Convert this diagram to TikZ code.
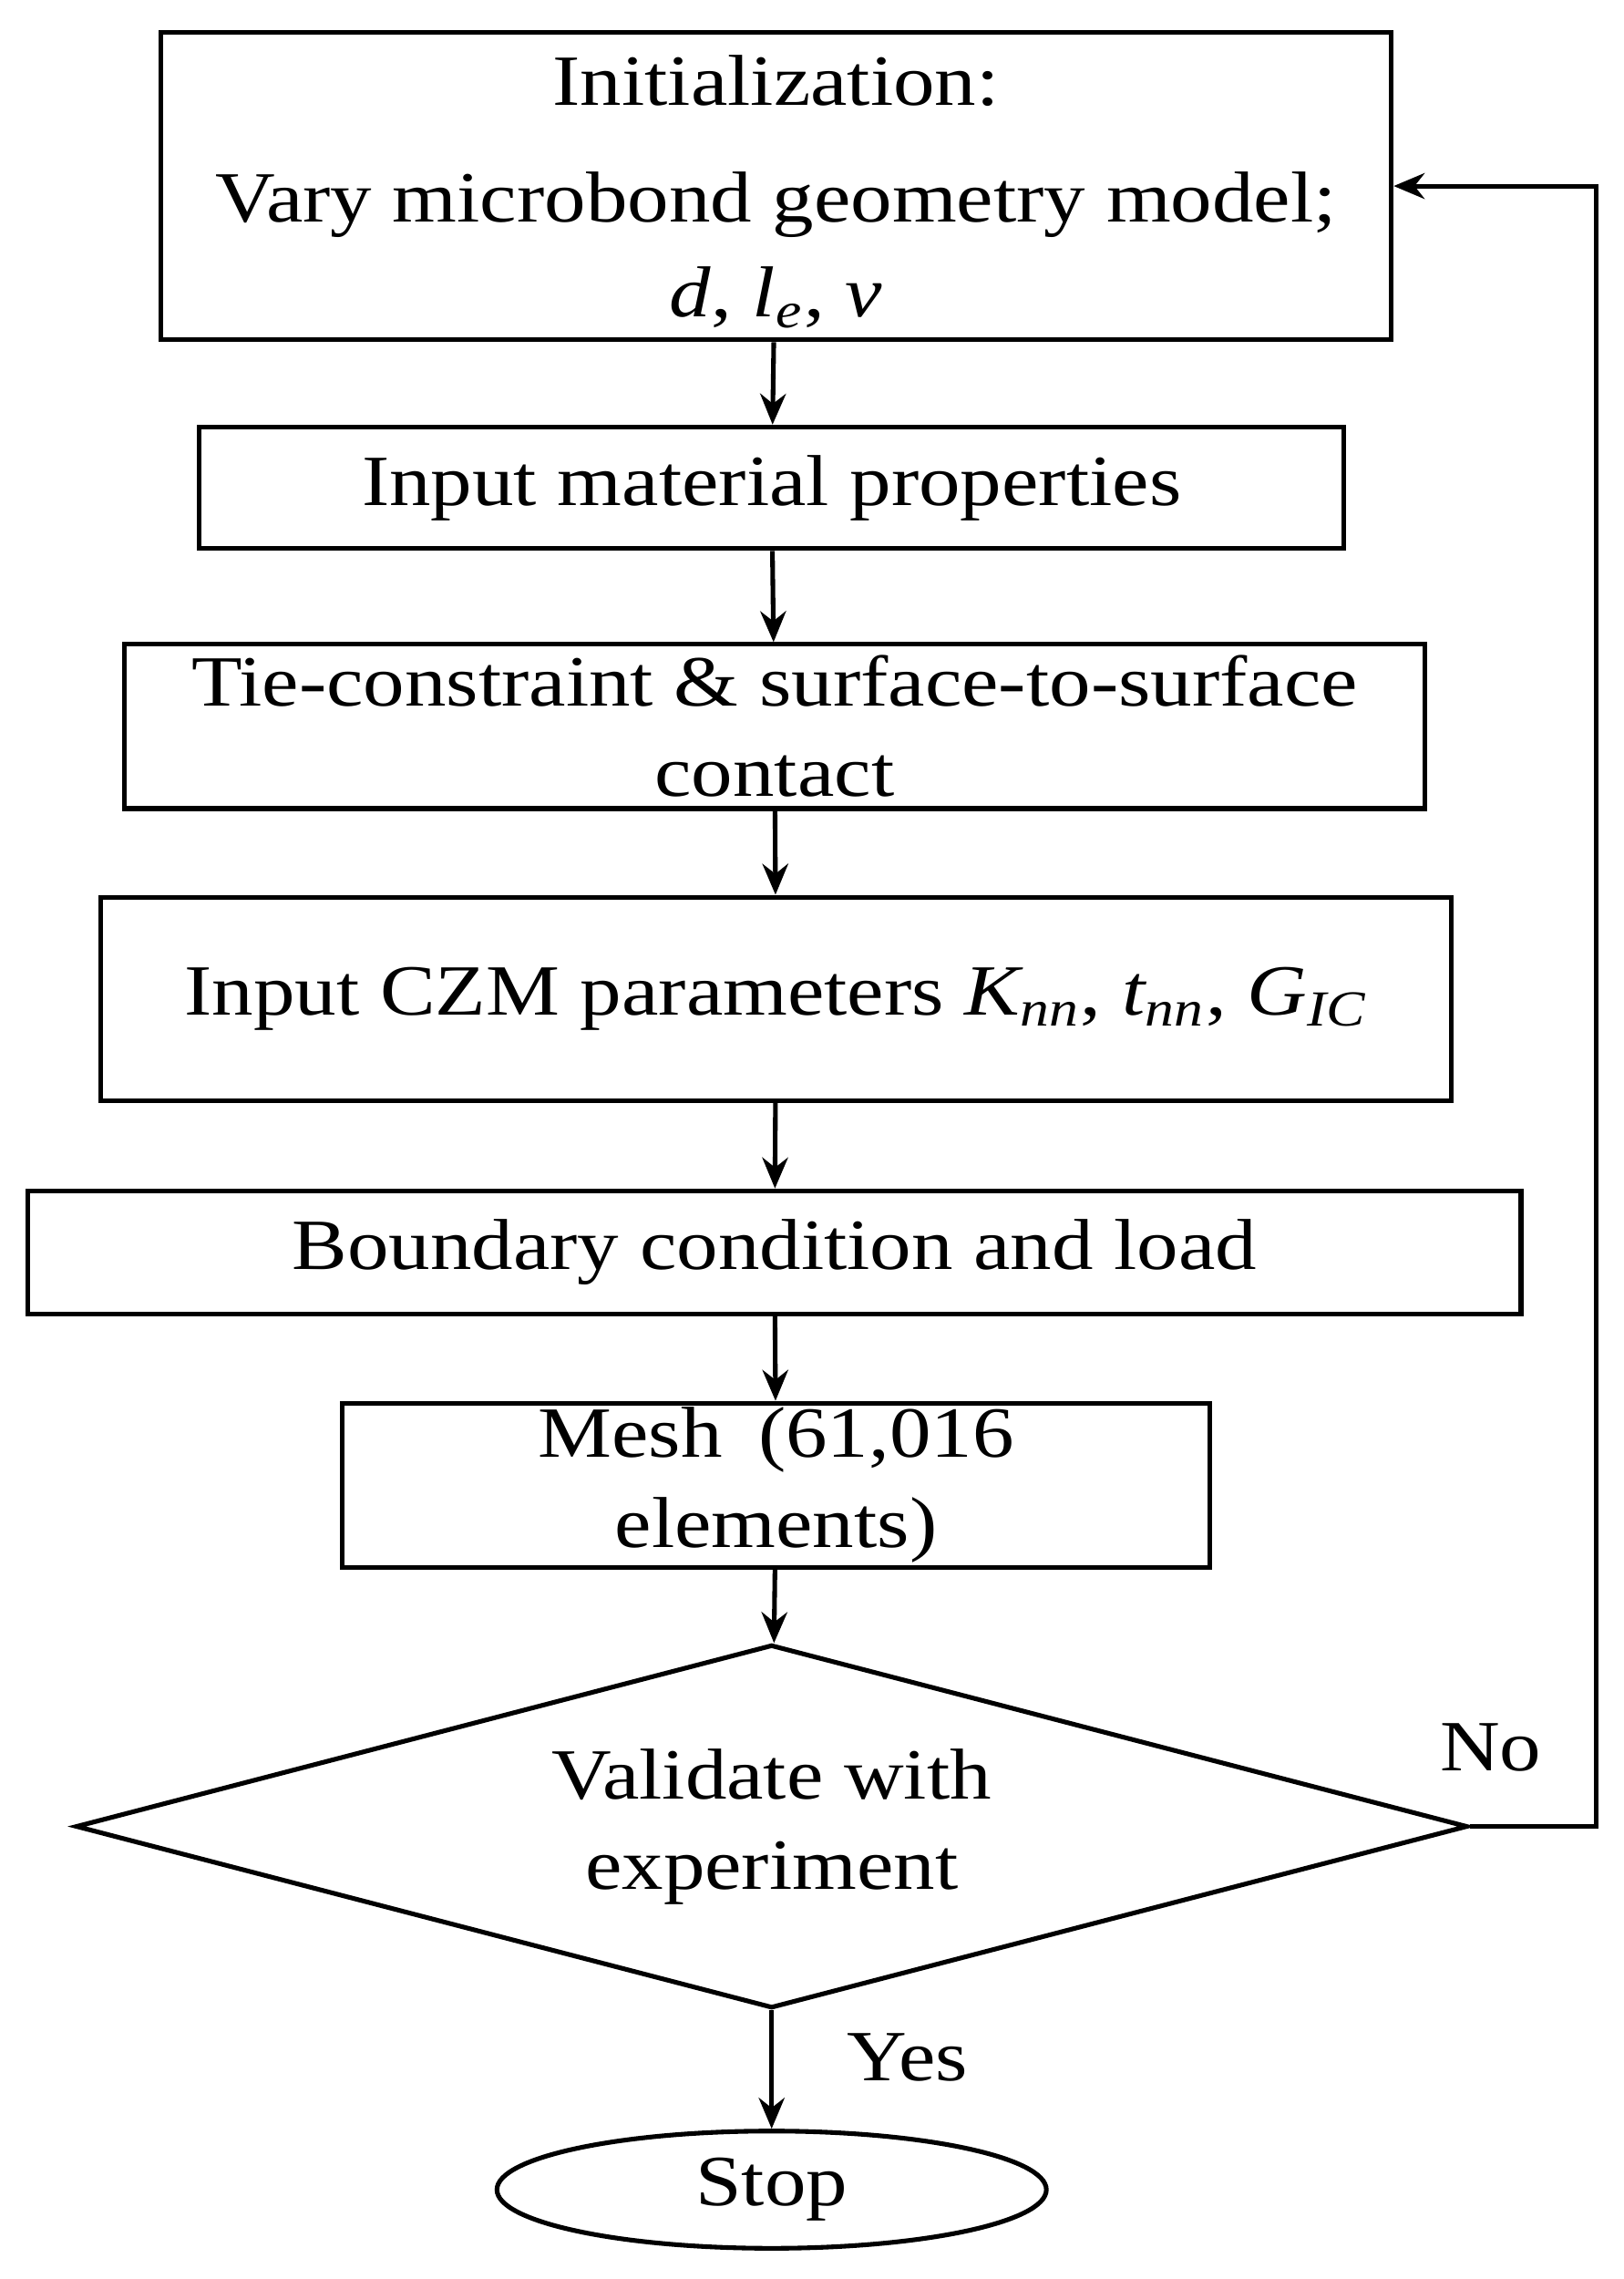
\documentclass[tikz,border=0pt]{standalone}
\usepackage{fontspec}
\setmainfont{Liberation Serif}[FakeStretch=1.15]
\usetikzlibrary{shapes.geometric,arrows.meta}
\begin{document}
\begin{tikzpicture}[x=0.01cm,y=-0.01cm,
  box/.style={draw,line width=0.9pt,inner sep=0pt},
  txt/.style={font=\fontsize{14}{17.5}\selectfont,align=center},
  arr/.style={line width=0.9pt,-{Stealth[length=6pt,width=5pt]}}]
\useasboundingbox (0,0) rectangle (1109,1556);
\node[box,minimum width=8.4cm,minimum height=2.1cm] (b1) at (530,127) {};
\node[txt] (t1a) at (530,55) {Initialization:};
\node[txt] (t1b) at (530,140) {Vary microbond geometry model;};
\node[txt] (t1c) at (530,203) {\textit{d}, \textit{l\textsubscript{e}}, \textit{v}};
\node[box,minimum width=7.81cm,minimum height=0.83cm,txt] (b2) at (527,333) {Input material properties};
\node[box,minimum width=8.88cm,minimum height=1.12cm,txt] (b3) at (529,496) {Tie-constraint \& surface-to-surface\\contact};
\node[box,minimum width=9.22cm,minimum height=1.39cm,txt] (b4) at (530,682) {Input CZM parameters \textit{K\textsubscript{nn}}, \textit{t\textsubscript{nn}}, \textit{G\textsubscript{IC}}};
\node[box,minimum width=10.19cm,minimum height=0.84cm,txt] (b5) at (529,855) {Boundary condition and load};
\node[box,minimum width=5.92cm,minimum height=1.12cm,txt] (b6) at (530,1014) {Mesh\enspace(61,016\\elements)};
\node[draw,line width=0.9pt,diamond,aspect=3.83,minimum width=9.5cm,minimum height=2.48cm,inner sep=0pt,txt] (d) at (527,1247) {Validate with\\experiment};
\node[draw,line width=0.9pt,ellipse,minimum width=3.75cm,minimum height=0.8cm,inner sep=0pt,txt] (s) at (527,1495) {Stop};
\draw[arr] (b1) -- (b2);
\draw[arr] (b2) -- (b3);
\draw[arr] (b3) -- (b4);
\draw[arr] (b4) -- (b5);
\draw[arr] (b5) -- (b6);
\draw[arr] (b6) -- (d);
\draw[arr] (d) -- (s);
\coordinate (c1) at (1090,1247);
\coordinate (c2) at (1090,127);
\draw[arr] (d.east) -- (c1) -- (c2) -- (b1.east);
\node[txt] (no) at (1018,1193) {No};
\node[txt] (yes) at (620,1405) {Yes};
\end{tikzpicture}
\end{document}
